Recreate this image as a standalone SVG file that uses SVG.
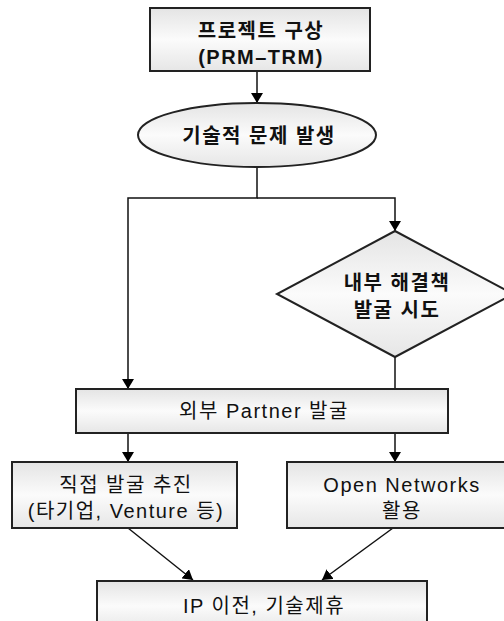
<svg xmlns="http://www.w3.org/2000/svg" width="504" height="621" viewBox="0 0 504 621">
<defs>
<linearGradient id="g" x1="0" y1="0" x2="0" y2="1">
<stop offset="0" stop-color="#e4e4e4"/>
<stop offset="0.5" stop-color="#fbfbfb"/>
<stop offset="1" stop-color="#e6e6e6"/>
</linearGradient>
<marker id="arr" viewBox="0 0 10 12" refX="10" refY="6" markerWidth="10" markerHeight="12" markerUnits="userSpaceOnUse" orient="auto">
<path d="M0,0 L10,6 L0,12 Z" fill="#000"/>
</marker>
<style>
.shape{fill:url(#g);stroke:#222;stroke-width:2}
.t{font-family:"Liberation Sans","Noto Sans CJK KR",sans-serif;font-size:20px;fill:#111;text-anchor:middle;letter-spacing:1.5px}
.b{font-weight:bold}
.c{fill:none;stroke:#111;stroke-width:1.5}
</style>
</defs>
<rect width="504" height="621" fill="#fff"/>
<g id="connectors">
<line class="c" x1="257" y1="71" x2="257" y2="103" marker-end="url(#arr)"/>
<polyline class="c" points="257,167 257,198 128,198 128,389" marker-end="url(#arr)"/>
<polyline class="c" points="257,198 395,198 395,231" marker-end="url(#arr)"/>
<line class="c" x1="395" y1="357" x2="395" y2="389"/>
<line class="c" x1="128" y1="433" x2="128" y2="462" marker-end="url(#arr)"/>
<line class="c" x1="395" y1="433" x2="395" y2="462" marker-end="url(#arr)"/>
<line class="c" x1="128" y1="528" x2="193" y2="580" marker-end="url(#arr)"/>
<line class="c" x1="393" y1="528" x2="322" y2="580" marker-end="url(#arr)"/>
</g>
<g id="n1">
<rect class="shape" x="150" y="8" width="220" height="63"/>
<text class="t b" x="261" y="38">프로젝트 구상</text>
<text class="t b" x="261" y="64">(PRM–TRM)</text>
</g>
<g id="n2">
<ellipse class="shape" cx="257" cy="135" rx="119" ry="32"/>
<text class="t b" x="259" y="143">기술적 문제 발생</text>
</g>
<g id="n3">
<polygon class="shape" points="395,231 513,294 395,357 277,294"/>
<text class="t b" x="397" y="290">내부 해결책</text>
<text class="t b" x="397" y="317">발굴 시도</text>
</g>
<g id="n4">
<rect class="shape" x="76" y="389" width="372" height="44"/>
<text class="t" x="264" y="418">외부 Partner 발굴</text>
</g>
<g id="n5">
<rect class="shape" x="12" y="462" width="225" height="66"/>
<text class="t" x="126" y="492">직접 발굴 추진</text>
<text class="t" x="126" y="518">(타기업, Venture 등)</text>
</g>
<g id="n6">
<rect class="shape" x="287" y="462" width="230" height="66"/>
<text class="t" x="402" y="492">Open Networks</text>
<text class="t" x="402" y="518">활용</text>
</g>
<g id="n7">
<rect class="shape" x="97" y="581" width="330" height="50"/>
<text class="t" x="264" y="613">IP 이전, 기술제휴</text>
</g>
</svg>
